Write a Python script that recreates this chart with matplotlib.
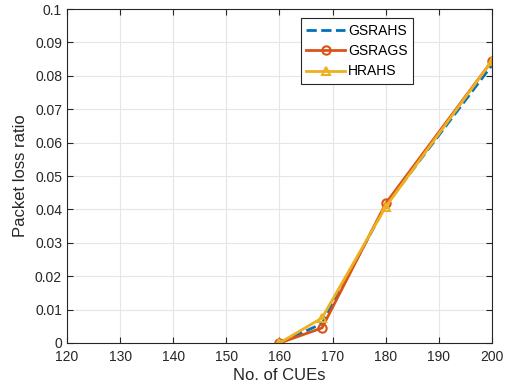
import matplotlib
matplotlib.use("Agg")
import matplotlib.pyplot as plt

plt.rcParams["font.family"] = ["Liberation Sans", "DejaVu Sans"]

cues = [160, 168, 180, 200]
gsrahs = [0.0, 0.0058, 0.0412, 0.0832]
gsrags = [0.0, 0.0045, 0.0418, 0.0845]
hrahs = [0.0, 0.0075, 0.0408, 0.0845]

blue = "#0072BD"
orange = "#D95319"
yellow = "#EDB120"

fig = plt.figure(figsize=(5.09, 3.92), dpi=100)
ax = fig.add_axes([0.1316, 0.125, 0.835, 0.852])

ax.plot(cues, gsrahs, "--", color=blue, lw=2, label="GSRAHS")
ax.plot(cues, gsrags, "-o", color=orange, lw=2, ms=6, mfc="none", mew=1.5, label="GSRAGS")
ax.plot(cues, hrahs, "-^", color=yellow, lw=2, ms=6, mfc="none", mew=1.5, label="HRAHS")

ax.set_xlim(120, 200)
ax.set_ylim(0, 0.1)
ax.set_xticks(range(120, 201, 10))
ax.set_yticks([i / 100 for i in range(11)])
ax.set_yticklabels(["0"] + [f"{i / 100:g}" for i in range(1, 11)])
ax.grid(True, color="#e6e6e6", lw=0.8)
ax.set_axisbelow(True)
ax.tick_params(direction="in", labelsize=10, length=4, color="#262626", labelcolor="#262626")
ax.tick_params(axis="x", pad=5)
ax.tick_params(top=True, right=True)
for s in ax.spines.values():
    s.set_color("#262626")
    s.set_linewidth(0.8)

ax.set_xlabel("No. of CUEs", fontsize=12, color="#262626", labelpad=3)
ax.set_ylabel("Packet loss ratio", fontsize=12, color="#262626", labelpad=5)

leg = ax.legend(loc="upper right", bbox_to_anchor=(0.814, 0.972), borderaxespad=0, fontsize=10,
                fancybox=False, framealpha=1, edgecolor="#262626",
                handlelength=2.8, borderpad=0.4, labelspacing=0.45, handletextpad=0.2)
leg.get_frame().set_linewidth(0.8)

fig.savefig("out.png", dpi=100)
